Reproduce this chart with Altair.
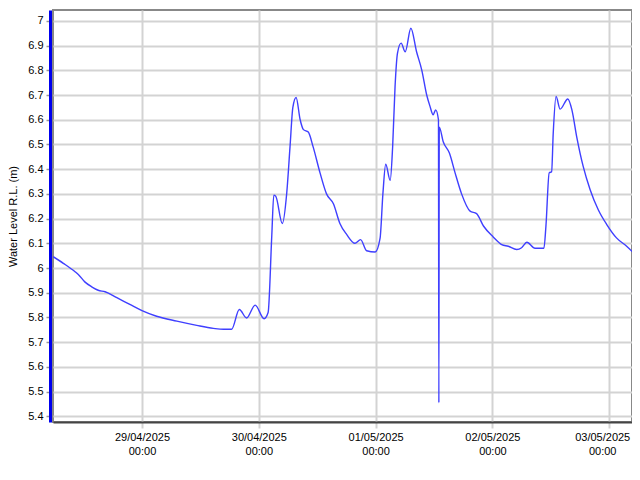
import altair as alt
import pandas as pd

times = [
    "2025-04-28T05:45", "2025-04-28T07:50", "2025-04-28T10:15", "2025-04-28T10:55",
    "2025-04-28T12:15", "2025-04-28T13:40", "2025-04-28T15:00", "2025-04-28T16:25",
    "2025-04-28T18:50", "2025-04-28T21:30", "2025-04-29T00:00", "2025-04-29T03:00",
    "2025-04-29T07:10", "2025-04-29T11:15", "2025-04-29T14:40", "2025-04-29T16:45",
    "2025-04-29T18:25", "2025-04-29T20:00", "2025-04-29T21:30", "2025-04-29T23:15",
    "2025-04-30T01:05", "2025-04-30T01:55", "2025-04-30T02:40", "2025-04-30T03:05",
    "2025-04-30T03:30", "2025-04-30T04:50", "2025-04-30T05:45", "2025-04-30T06:25",
    "2025-04-30T07:00", "2025-04-30T07:40", "2025-04-30T08:30", "2025-04-30T09:10",
    "2025-04-30T10:10", "2025-04-30T11:10", "2025-04-30T12:35", "2025-04-30T13:55",
    "2025-04-30T15:20", "2025-04-30T16:40", "2025-04-30T18:05", "2025-04-30T19:45",
    "2025-04-30T20:55", "2025-04-30T22:10", "2025-04-30T23:55", "2025-05-01T00:55",
    "2025-05-01T01:30", "2025-05-01T02:05", "2025-05-01T03:00", "2025-05-01T03:30",
    "2025-05-01T04:00", "2025-05-01T04:30", "2025-05-01T05:15", "2025-05-01T06:05",
    "2025-05-01T07:15", "2025-05-01T08:25", "2025-05-01T09:30", "2025-05-01T10:30",
    "2025-05-01T11:10", "2025-05-01T11:50", "2025-05-01T12:20", "2025-05-01T12:55",
    "2025-05-01T13:00", "2025-05-01T13:05", "2025-05-01T13:55", "2025-05-01T15:10",
    "2025-05-01T16:20", "2025-05-01T17:40", "2025-05-01T19:25", "2025-05-01T20:45",
    "2025-05-01T22:10", "2025-05-02T00:10", "2025-05-02T01:55", "2025-05-02T03:15",
    "2025-05-02T05:00", "2025-05-02T06:00", "2025-05-02T07:05", "2025-05-02T08:45",
    "2025-05-02T10:35", "2025-05-02T11:00", "2025-05-02T11:40", "2025-05-02T12:10",
    "2025-05-02T12:30", "2025-05-02T13:05", "2025-05-02T13:55", "2025-05-02T15:30",
    "2025-05-02T16:20", "2025-05-02T17:20", "2025-05-02T18:40", "2025-05-02T20:05",
    "2025-05-02T21:45", "2025-05-02T23:30", "2025-05-03T01:30", "2025-05-03T03:35",
    "2025-05-03T05:40",
]
levels = [
    6.046, 6.019, 5.985, 5.974,
    5.944, 5.924, 5.910, 5.904,
    5.880, 5.853, 5.828, 5.805,
    5.785, 5.768, 5.756, 5.752,
    5.752, 5.832, 5.798, 5.850,
    5.795, 5.820, 6.130, 6.295,
    6.290, 6.180, 6.305, 6.490,
    6.650, 6.690, 6.600, 6.560,
    6.550, 6.490, 6.385, 6.300,
    6.260, 6.180, 6.135, 6.100,
    6.115, 6.070, 6.065, 6.120,
    6.300, 6.420, 6.355, 6.490,
    6.735, 6.870, 6.910, 6.875,
    6.970, 6.875, 6.800, 6.700,
    6.655, 6.620, 6.640, 6.600,
    5.455, 6.570, 6.510, 6.465,
    6.385, 6.300, 6.230, 6.220,
    6.170, 6.126, 6.095, 6.088,
    6.075, 6.082, 6.104, 6.080,
    6.080, 6.170, 6.385, 6.390,
    6.546, 6.694, 6.643, 6.684,
    6.640, 6.530, 6.410, 6.317,
    6.236, 6.176, 6.122, 6.088,
    6.048,
]
y_ticks = [5.4, 5.5, 5.6, 5.7, 5.8, 5.9, 6.0, 6.1, 6.2, 6.3, 6.4, 6.5, 6.6, 6.7, 6.8, 6.9, 7.0]
x_ticks = ["2025-04-29T00:00", "2025-04-30T00:00", "2025-05-01T00:00",
           "2025-05-02T00:00", "2025-05-03T00:00"]
x_domain = ["2025-04-28T05:43", "2025-05-03T04:41"]
y_domain = [5.377, 7.044]

df = pd.DataFrame({"time": pd.to_datetime(times), "level": levels})


def to_dt(t):
    return alt.DateTime(year=int(t[0:4]), month=int(t[5:7]), date=int(t[8:10]),
                        hours=int(t[11:13]), minutes=int(t[14:16]))


tick_dt = [to_dt(t) for t in x_ticks]
dom_dt = [to_dt(t) for t in x_domain]

font = "Liberation Sans"

chart = alt.Chart(df).mark_line(color="#3f3fff", strokeWidth=1.4, clip=True,
                                interpolate="monotone").encode(
    x=alt.X("time:T",
            scale=alt.Scale(domain=dom_dt),
            axis=alt.Axis(values=tick_dt, title=None,
                          labelExpr="[timeFormat(datum.value, '%d/%m/%Y'), timeFormat(datum.value, '%H:%M')]",
                          labelFont=font, labelFontSize=11, labelColor="#000",
                          labelLineHeight=14, labelPadding=3,
                          labelOffset={"condition": {"test": "datum.value > time(datetime(2025, 4, 2, 12))",
                                                     "value": -7},
                                       "value": 0},
                          grid=True, gridColor="#d3d3d3", gridWidth=2,
                          tickColor="#d3d3d3", tickWidth=2, tickSize=6,
                          domainColor="#444", domainWidth=2, labelOverlap=False)),
    y=alt.Y("level:Q",
            scale=alt.Scale(domain=y_domain, nice=False, zero=False),
            axis=alt.Axis(values=y_ticks, format=".1~f", title="Water Level R.L. (m)",
                          titleFont=font, titleFontSize=11, titleFontWeight="normal",
                          titleColor="#000", titlePadding=9,
                          labelFont=font, labelFontSize=11, labelColor="#000",
                          labelPadding=3,
                          grid=True, gridColor="#d3d3d3", gridWidth=2,
                          tickColor="#999", tickWidth=1.5, tickSize=4,
                          domainColor="#0000ee", domainWidth=3, offset=3)),
).properties(
    width=579, height=412,
    autosize=alt.AutoSizeParams(type="none"),
    padding={"left": 45, "top": 2, "right": 0, "bottom": 52},
).configure_view(
    stroke="#888", strokeWidth=2
)

chart.save("out.html", embed_options={"renderer": "svg", "actions": False})
